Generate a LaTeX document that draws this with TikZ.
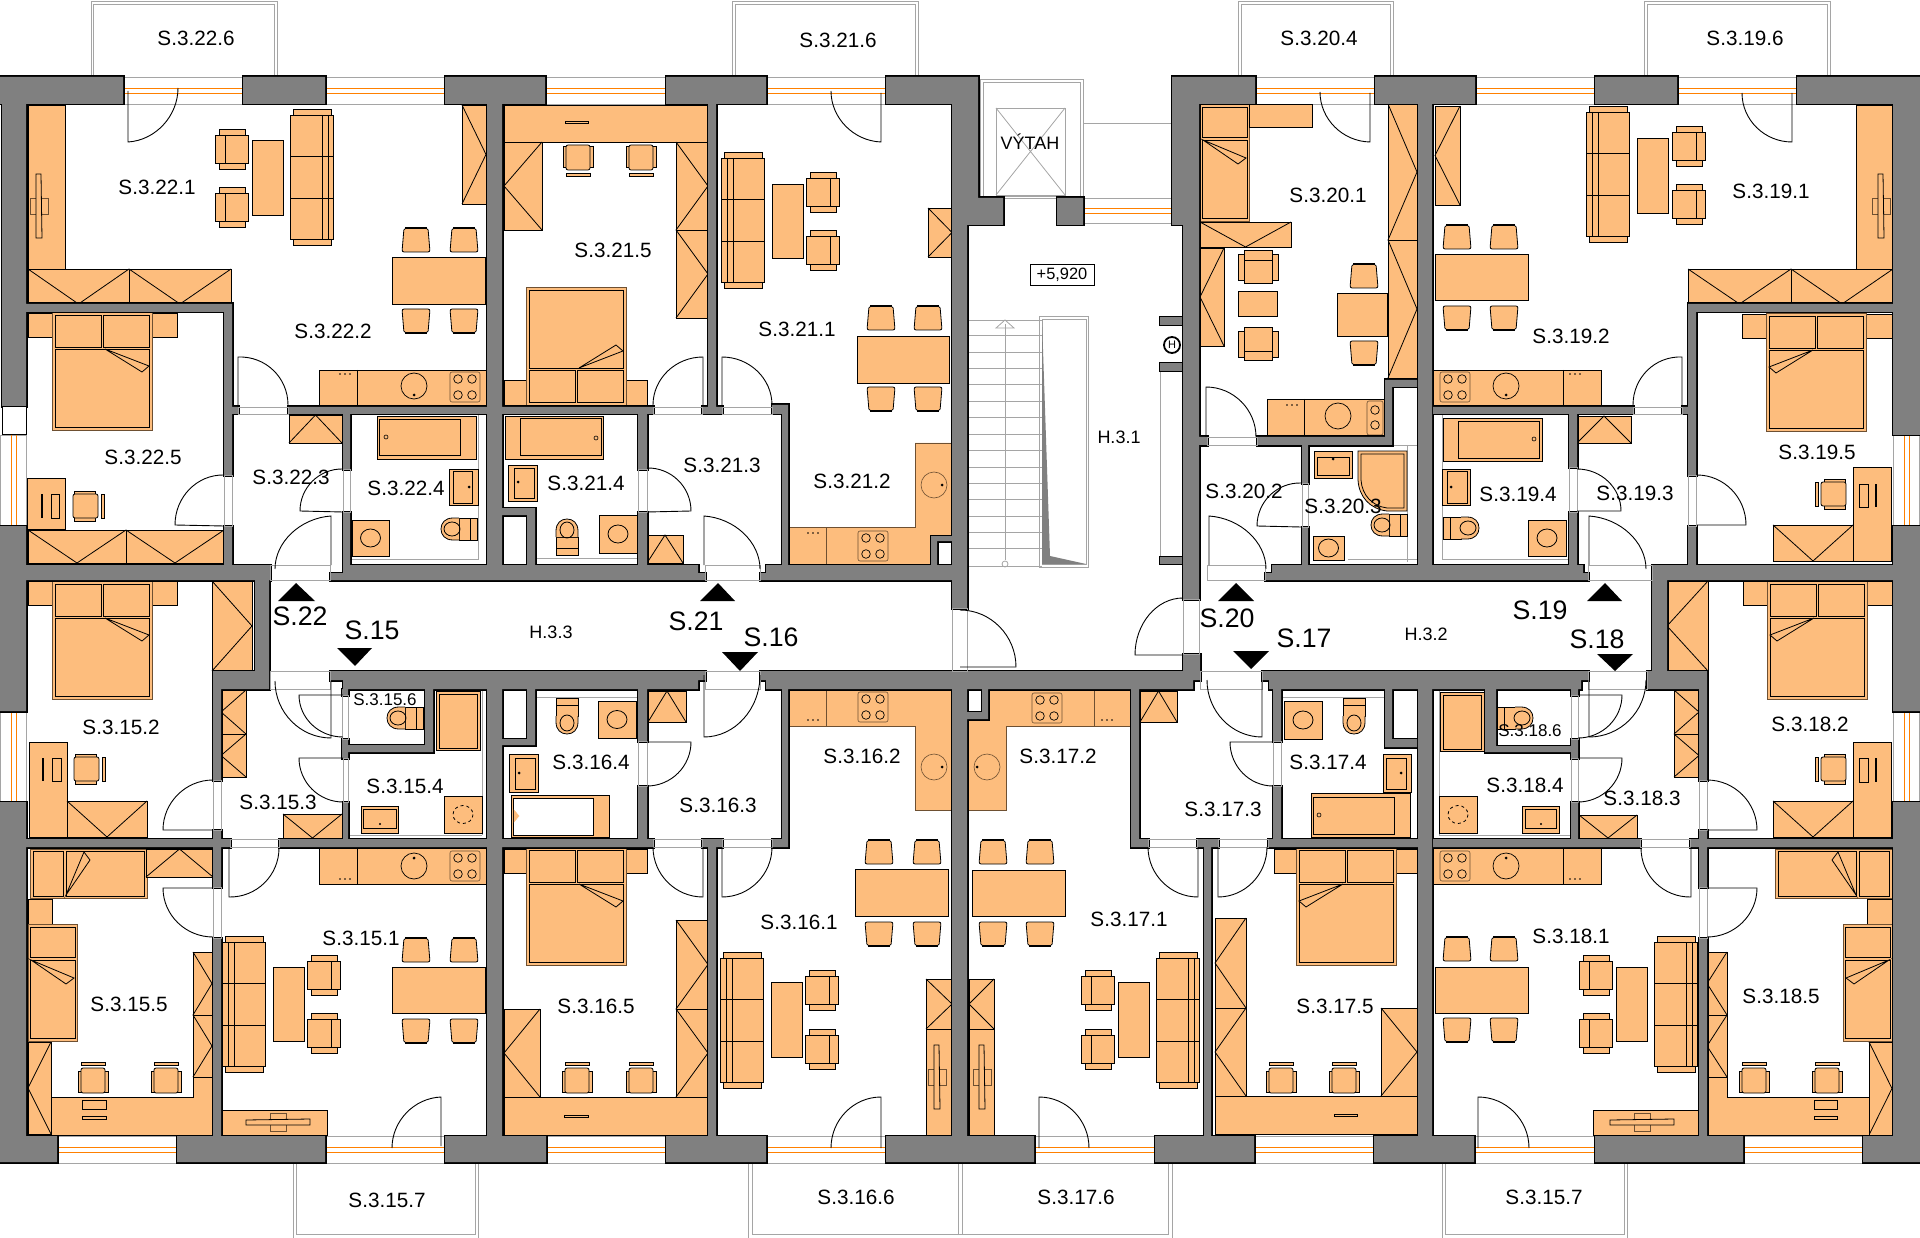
\documentclass[tikz,border=0pt]{standalone}
\usepackage{fontspec}
\setmainfont{Liberation Sans}
\definecolor{wallgrey}{RGB}{128,128,128}
\definecolor{unitfill}{RGB}{253,189,125}
\definecolor{glassorange}{RGB}{255,128,0}
\definecolor{framegrey}{RGB}{165,165,165}
\definecolor{unitedge}{RGB}{110,80,50}
\tikzset{
  unit/.style={draw=black,fill=unitfill,line width=.8pt},
  softunit/.style={draw=unitedge,fill=unitfill,line width=.6pt},
  foldline/.style={draw=black,line width=.8pt},
  frameline/.style={draw=framegrey,line width=.8pt},
  doorline/.style={draw=black,line width=.9pt},
  room/.style={font=\fontsize{20.7}{24}\selectfont,inner sep=0pt},
  roomsmall/.style={font=\fontsize{17}{20}\selectfont,inner sep=0pt},
  hall/.style={font=\fontsize{18}{20}\selectfont,inner sep=0pt},
  entry/.style={font=\fontsize{26.7}{30}\selectfont,inner sep=0pt},
  level/.style={draw=black,line width=.8pt,font=\fontsize{16.4}{18}\selectfont,minimum width=64,minimum height=21,inner sep=0pt}
}
\newcommand{\wardS}[4]{\draw[unit] (#1,#2) rectangle (#3,#4); \pgfmathsetmacro\midw{(#1+#3)/2} \draw[foldline] (#1,#2) -- (\midw,#4) -- (#3,#2);}
\newcommand{\wardN}[4]{\draw[unit] (#1,#2) rectangle (#3,#4); \pgfmathsetmacro\midw{(#1+#3)/2} \draw[foldline] (#1,#4) -- (\midw,#2) -- (#3,#4);}
\newcommand{\wardE}[4]{\draw[unit] (#1,#2) rectangle (#3,#4); \pgfmathsetmacro\midw{(#2+#4)/2} \draw[foldline] (#1,#2) -- (#3,\midw) -- (#1,#4);}
\newcommand{\wardW}[4]{\draw[unit] (#1,#2) rectangle (#3,#4); \pgfmathsetmacro\midw{(#2+#4)/2} \draw[foldline] (#3,#2) -- (#1,\midw) -- (#3,#4);}
\newcommand{\swing}[6]{\pgfmathsetmacro\cax{#3+.55*(#5-#1)} \pgfmathsetmacro\cay{#4+.55*(#6-#2)} \pgfmathsetmacro\cbx{#5+.55*(#3-#1)} \pgfmathsetmacro\cby{#6+.55*(#4-#2)} \draw[doorline] (#1,#2) -- (#3,#4) .. controls (\cax,\cay) and (\cbx,\cby) .. (#5,#6);}
\newcommand{\winH}[3]{\pgfmathsetmacro\wta{#3-11} \pgfmathsetmacro\wtb{#3+16} \pgfmathsetmacro\wtc{#3+5} \draw[frameline] (#1,\wta) rectangle (#2,\wtb); \draw[glassorange,line width=.9pt] (#1,#3) -- (#2,#3) (#1,\wtc) -- (#2,\wtc);}
\newcommand{\winV}[3]{\pgfmathsetmacro\wta{#1+26} \pgfmathsetmacro\wtb{#1+11} \pgfmathsetmacro\wtc{#1+16} \draw[frameline] (#1,#2) rectangle (\wta,#3); \draw[glassorange,line width=.9pt] (\wtb,#2) -- (\wtb,#3) (\wtc,#2) -- (\wtc,#3);}
\newcommand{\balcony}[4]{\draw[frameline] (#1,77) -- (#1,1) -- (#4,1) -- (#4,77); \draw[frameline] (#2,77) -- (#2,4) -- (#3,4) -- (#3,77);}
\newcommand{\opening}[4]{\draw[frameline] (#1,#2) rectangle (#3,#4);}
\newcommand{\dinchair}[3]{\begin{scope}[shift={(#1,#2)},yscale=#3] \draw[unit,rounded corners=2pt] (-12,-12) -- (12,-12) -- (14,12) -- (-14,12) -- cycle; \draw[line width=1.2pt] (-11,-12) -- (11,-12); \end{scope}}
\newcommand{\sofa}[3][]{\begin{scope}[shift={(#2,#3)},#1] \draw[unit] (-19,-68) rectangle (19,68); \draw[unit] (-21.5,-62) rectangle (21.5,62); \draw[foldline] (-21.5,-21) -- (21.5,-21) (-21.5,21) -- (21.5,21) (10,-62) -- (10,62) (16,-62) -- (16,62); \end{scope}}
\newcommand{\armchair}[3][]{\begin{scope}[shift={(#2,#3)},#1] \draw[unit] (-13,-20) rectangle (13,20); \draw[unit] (-16.5,-14) rectangle (16.5,14); \draw[foldline] (-7,-14) -- (-7,14); \end{scope}}
\newcommand{\ochair}[3][]{\begin{scope}[shift={(#2,#3)},#1] \draw[unit] (-15,-9) rectangle (15,12); \draw[unit,rounded corners=2pt] (-12,-12) rectangle (12,13); \draw[unit] (-12,-18) rectangle (12,-15); \end{scope}}
\newcommand{\dbed}[3][]{\begin{scope}[shift={(#2,#3)},#1] \draw[softunit] (-50,0) rectangle (50,118); \draw[unit] (-47,3) rectangle (-1,35); \draw[unit] (1,3) rectangle (47,35); \draw[unit] (-47,37) rectangle (47,115); \draw[unit] (3,37) -- (47,54) -- (40,60) -- cycle; \end{scope}}
\newcommand{\sbed}[3][]{\begin{scope}[shift={(#2,#3)},#1] \draw[softunit] (0,0) rectangle (49,117); \draw[unit] (2,3) rectangle (47,33); \draw[unit] (2,36) rectangle (47,114); \draw[unit] (3,36) -- (46,54) -- (38,60) -- cycle; \end{scope}}
\newcommand{\tvset}[3][]{\begin{scope}[shift={(#2,#3)},#1] \draw[softunit] (-9,-8) rectangle (9,8); \draw[unit] (-3,-32) -- (2,-32) -- (3,32) -- (-3,32) -- cycle; \end{scope}}
\newcommand{\hob}[2]{\begin{scope}[shift={(#1,#2)}] \draw[softunit,rounded corners=2pt] (-15,-15) rectangle (15,15); \foreach \hx in {-7,7} \foreach \hy in {-8,8} \draw[line width=.7pt] (\hx,\hy) circle (4.3); \end{scope}}
\newcommand{\bowl}[4]{\draw[line width=.7pt] (#1,#2) circle (13); \fill (#3,#4) circle (1.5);}
\newcommand{\threedots}[2]{\begin{scope}[shift={(#1,#2)}] \foreach \dx in {-5,0,5} \fill[black] (\dx,0) circle (.9); \end{scope}}
\newcommand{\tub}[8]{\draw[unit] (#1,#2) rectangle (#3,#4); \draw[unit] (#5,#6) rectangle (#7,#8);}
\newcommand{\basin}[8]{\draw[unit] (#1,#2) rectangle (#3,#4); \draw[unit] (#5,#6) rectangle (#7,#8);}
\newcommand{\washer}[4]{\draw[unit] (#1,#2) rectangle (#3,#4); \pgfmathsetmacro\wmx{(#1+#3)/2} \pgfmathsetmacro\wmy{(#2+#4)/2} \draw[line width=.8pt] (\wmx,\wmy) ellipse (10 and 9);}
\newcommand{\washerd}[4]{\draw[unit] (#1,#2) rectangle (#3,#4); \pgfmathsetmacro\wmx{(#1+#3)/2} \pgfmathsetmacro\wmy{(#2+#4)/2} \draw[line width=.8pt,dashed] (\wmx,\wmy) ellipse (10 and 9);}
\newcommand{\wcpan}[3][]{\begin{scope}[shift={(#2,#3)},#1] \draw[unit] (0,-11) rectangle (18,11); \draw[unit] (0,-11) -- (-6,-11) .. controls (-14,-11) and (-18,-6) .. (-18,0) .. controls (-18,6) and (-14,11) .. (-6,11) -- (0,11); \draw[foldline] (11,-11) -- (11,11); \draw[line width=.8pt] (-7,0) ellipse (8 and 7); \end{scope}}
\newcommand{\wallrects}{
  (2,77) rectangle (26,407) (0,77) rectangle (123,104) (243,77) rectangle (325,104) (445,77) rectangle (545,104) (666,77) rectangle (766,104) (886,77) rectangle (978,104)
  (0,526) rectangle (26,711) (0,802) rectangle (26,1162) (0,1136) rectangle (57,1162) (177,1136) rectangle (325,1162) (445,1136) rectangle (546,1162) (666,1136) rectangle (766,1162) (886,1136) rectangle (1034,1162) (1155,1136) rectangle (1254,1162) (1374,1136) rectangle (1474,1162) (1595,1136) rectangle (1743,1162) (1863,1136) rectangle (1920,1162)
  (1172,77) rectangle (1255,104) (1375,77) rectangle (1475,104) (1595,77) rectangle (1677,104) (1797,77) rectangle (1920,104) (1893,77) rectangle (1920,435) (1893,526) rectangle (1920,711) (1893,802) rectangle (1920,1162)
  (487,104) rectangle (502,565) (708,104) rectangle (716,407) (702,407) rectangle (722,414) (502,407) rectangle (653,414) (638,414) rectangle (647,469) (638,512) rectangle (647,565) (772,405) rectangle (788,414) (782,405) rectangle (788,565)
  (527,508) rectangle (535,565) (502,508) rectangle (535,515) (931,536) rectangle (937,565) (931,536) rectangle (952,541)
  (26,565) rectangle (270,580) (343,565) rectangle (698,573) (330,573) rectangle (705,580) (766,565) rectangle (952,573) (760,573) rectangle (952,580)
  (952,104) rectangle (978,225) (952,225) rectangle (967,608) (960,198) rectangle (1003,225) (1057,198) rectangle (1083,225) (1172,104) rectangle (1199,225) (1183,225) rectangle (1199,599)
  (26,304) rectangle (232,312) (224,312) rectangle (232,475) (224,526) rectangle (232,565) (232,407) rectangle (238,414) (288,407) rectangle (487,414) (343,414) rectangle (350,469) (343,512) rectangle (350,565) (255,565) rectangle (269,689)
  (1199,437) rectangle (1207,445) (1257,437) rectangle (1385,445) (1302,445) rectangle (1308,483) (1302,527) rectangle (1308,565) (1385,380) rectangle (1392,445) (1385,380) rectangle (1417,387) (1418,104) rectangle (1432,565)
  (1272,565) rectangle (1583,573) (1265,573) rectangle (1588,580) (1433,407) rectangle (1633,414) (1682,407) rectangle (1692,414) (1688,304) rectangle (1696,475) (1688,526) rectangle (1696,565) (1688,304) rectangle (1893,312) (1569,414) rectangle (1577,467) (1569,512) rectangle (1577,565) (1652,565) rectangle (1920,580) (1652,565) rectangle (1667,689)
  (213,671) rectangle (269,689) (213,689) rectangle (221,780) (213,830) rectangle (221,887) (213,938) rectangle (221,1136) (26,839) rectangle (230,847) (279,839) rectangle (487,847) (342,689) rectangle (348,695) (342,739) rectangle (348,758) (343,802) rectangle (348,839) (348,745) rectangle (433,752) (425,689) rectangle (433,752)
  (330,671) rectangle (705,680) (343,680) rectangle (698,689) (487,689) rectangle (502,1136) (527,689) rectangle (535,745) (502,739) rectangle (535,745) (638,689) rectangle (647,741) (638,786) rectangle (647,839) (502,839) rectangle (653,847) (702,839) rectangle (722,847) (708,847) rectangle (716,1136) (782,689) rectangle (788,847) (772,839) rectangle (788,847)
  (760,671) rectangle (1200,680) (766,680) rectangle (1193,689) (952,689) rectangle (967,1136) (982,689) rectangle (988,719) (967,712) rectangle (988,719) (1183,654) rectangle (1200,680)
  (1131,689) rectangle (1139,847) (1131,839) rectangle (1148,847) (1197,839) rectangle (1218,847) (1204,847) rectangle (1211,1136) (1268,839) rectangle (1418,847) (1273,689) rectangle (1281,741) (1273,786) rectangle (1281,839)
  (1262,671) rectangle (1588,680) (1269,680) rectangle (1581,689) (1385,689) rectangle (1392,747) (1385,739) rectangle (1417,747) (1418,689) rectangle (1432,1136)
  (1433,839) rectangle (1640,847) (1690,839) rectangle (1893,847) (1699,689) rectangle (1707,780) (1699,830) rectangle (1707,887) (1699,938) rectangle (1707,1136) (1647,671) rectangle (1707,689) (1571,689) rectangle (1578,695) (1571,739) rectangle (1578,758) (1571,802) rectangle (1578,839) (1485,746) rectangle (1578,752) (1485,689) rectangle (1496,752)
}
\begin{document}
\begin{tikzpicture}[x=1pt,y=-1pt]
\useasboundingbox (0,0) rectangle (1920,1238);
\balcony{91}{93}{274}{277}
\balcony{732}{735}{915}{918}
\balcony{1238}{1241}{1390}{1393}
\balcony{1644}{1647}{1827}{1830}
\draw[frameline] (293,1162) -- (293,1238) -- (478,1238) -- (478,1162) (296,1162) -- (296,1234) -- (475,1234) -- (475,1162);
\draw[frameline] (748,1162) -- (748,1238) -- (1172,1238) -- (1172,1162) (752,1162) -- (752,1234) -- (1168,1234) -- (1168,1162) (958,1162) -- (958,1234) (962,1162) -- (962,1234);
\draw[frameline] (1442,1162) -- (1442,1238) -- (1627,1238) -- (1627,1162) (1445,1162) -- (1445,1234) -- (1624,1234) -- (1624,1162);
\winH{123}{243}{88}
\winH{325}{445}{88}
\winH{545}{666}{88}
\winH{766}{886}{88}
\winH{1255}{1375}{88}
\winH{1475}{1595}{88}
\winH{1677}{1797}{88}
\winH{57}{177}{1147}
\winH{325}{445}{1147}
\winH{546}{666}{1147}
\winH{766}{886}{1147}
\winH{1034}{1155}{1147}
\winH{1254}{1374}{1147}
\winH{1474}{1595}{1147}
\winH{1743}{1863}{1147}
\winV{0}{435}{526}
\winV{0}{711}{802}
\winV{1893}{435}{526}
\winV{1893}{711}{802}
\draw[frameline] (980,79) rectangle (1083,198);
\draw[frameline] (983,82) rectangle (1080,196);
\draw[frameline] (996,108) rectangle (1065,195);
\draw[frameline] (996,108) -- (1065,195) (1065,108) -- (996,195);
\draw[frameline] (1083,123) -- (1172,123) (1083,198) -- (1172,198) (1083,223) -- (1172,223);
\draw[glassorange,line width=.9pt] (1083,208) -- (1172,208) (1083,213) -- (1172,213);
\foreach \ty in {320,335,352,368,384,401,417,434,450,467,483,499,516,532,548,566} \draw[frameline] (969,\ty) -- (1042,\ty);
\draw[frameline] (1005,324) -- (1005,560);
\draw[frameline] (996,328) -- (1005,320) -- (1014,328) -- cycle;
\draw[frameline] (1005,564) circle (3);
\draw[frameline] (1039,316) rectangle (1088,567);
\draw[frameline] (1042,319) rectangle (1086,564);
\fill[wallgrey] (1042,320) -- (1050,556) -- (1086,564) -- (1042,564) -- cycle;
\draw[frameline] (1160,372) -- (1160,556);
\draw[unit] (28,105) rectangle (65,269);
\tvset{39}{206}
\wardS{28}{269}{129}{304}
\wardS{129}{269}{231}{304}
\wardE{462}{105}{486}{204}
\armchair{232}{149}
\armchair{232}{207}
\draw[unit] (252,140) rectangle (283,215);
\sofa{312}{177}
\draw[unit] (392,257) rectangle (485,304);
\dinchair{416}{240}{1}
\dinchair{464}{240}{1}
\dinchair{416}{321}{-1}
\dinchair{464}{321}{-1}
\draw[unit] (319,370) rectangle (487,406);
\draw[foldline] (357,370) -- (357,406);
\bowl{414}{386}{414}{395}
\hob{465}{387}
\threedots{345}{374}
\draw[unit] (28,313) rectangle (52,337);
\draw[unit] (152,313) rectangle (177,337);
\dbed{102}{312}
\draw[unit] (27,478) rectangle (65,529);
\draw[unit] (51,494) rectangle (59,518);
\fill (41,494) rectangle (43,518);
\ochair[rotate=-90]{86}{506}
\wardS{28}{530}{126}{563}
\wardS{126}{530}{224}{563}
\wardN{289}{415}{342}{443}
\draw[frameline] (478,414) -- (478,560) (352,559) -- (478,559);
\tub{377}{416}{476}{459}{379}{419}{460}{455}
\draw[line width=.6pt] (386,437) circle (2);
\basin{449}{469}{478}{505}{453}{471}{472}{503}
\fill (469,487) circle (1.5);
\wcpan{459}{529}
\washer{352}{520}{389}{556}
\draw[unit] (504,105) rectangle (708,142);
\draw[unit] (565,121) rectangle (588,123);
\wardW{504}{142}{542}{230}
\wardE{676}{142}{708}{230}
\wardE{676}{230}{708}{318}
\ochair[rotate=180]{578}{158}
\ochair[rotate=180]{641}{158}
\draw[unit] (504,380) rectangle (526,405);
\draw[unit] (625,380) rectangle (647,405);
\dbed[yscale=-1]{576}{405}
\draw[frameline] (535,558) -- (638,558);
\tub{505}{416}{603}{459}{520}{418}{601}{455}
\draw[line width=.6pt] (596,438) circle (2);
\basin{508}{465}{537}{501}{514}{468}{534}{498}
\fill (518,482) circle (1.5);
\wcpan[rotate=-90]{567}{537}
\washer{599}{515}{637}{553}
\wardN{647}{535}{683}{563}
\sofa[xscale=-1]{743}{220}
\draw[unit] (772,184) rectangle (803,258);
\armchair[xscale=-1]{823}{192}
\armchair[xscale=-1]{823}{250}
\wardE{928}{208}{952}{257}
\draw[unit] (857,336) rectangle (949,383);
\dinchair{881}{318}{1}
\dinchair{928}{318}{1}
\dinchair{881}{399}{-1}
\dinchair{928}{399}{-1}
\draw[softunit] (789,527) -- (915,527) -- (915,443) -- (952,443) -- (952,536) -- (931,536) -- (931,565) -- (789,565) -- cycle;
\draw[unitedge,line width=.6pt] (826,527) -- (826,565);
\draw[unitedge,line width=.6pt] (934,485) ellipse (13 and 13);
\fill (942,485) circle (1.5);
\hob{873}{546}
\threedots{813}{533}
\sbed{1200}{104}
\draw[unit] (1249,104) rectangle (1312,127);
\wardS{1200}{222}{1291}{247}
\wardW{1200}{248}{1224}{346}
\armchair[rotate=-90]{1258}{267}
\draw[unit] (1238,291) rectangle (1277,316);
\armchair[rotate=90]{1258}{344}
\draw[unit] (1337,293) rectangle (1387,336);
\dinchair{1364}{276}{1}
\dinchair{1364}{353}{-1}
\wardE{1388}{104}{1417}{240}
\wardE{1388}{240}{1417}{378}
\draw[unit] (1267,399) rectangle (1384,437);
\draw[foldline] (1304,399) -- (1304,437);
\draw[line width=.7pt] (1338,416) circle (13);
\draw[softunit,rounded corners=2pt] (1367,401) rectangle (1383,435);
\draw[line width=.7pt] (1375,410) circle (4.3) (1375,425) circle (4.3);
\threedots{1292}{405}
\draw[frameline] (1407,445) -- (1407,562) (1348,559) -- (1417,559) (1308,445) -- (1417,445);
\basin{1314}{451}{1352}{478}{1317}{457}{1349}{475}
\fill (1333,459) circle (1.5);
\draw[unit] (1358,451) -- (1407,451) -- (1407,511) -- (1387,511) .. controls (1370,509) and (1359,497) .. (1358,480) -- cycle;
\draw[foldline] (1361,454) -- (1404,454) -- (1404,508) -- (1387,508) .. controls (1372,506) and (1362,495) .. (1361,480) -- cycle;
\wcpan{1389}{525}
\washer{1313}{536}{1344}{560}
\draw[unit] (1856,105) rectangle (1893,269);
\tvset{1881}{206}
\wardS{1688}{269}{1791}{304}
\wardS{1791}{269}{1893}{304}
\wardW{1435}{106}{1460}{205}
\sofa[xscale=-1]{1608}{174}
\draw[unit] (1637,138) rectangle (1668,213);
\armchair[xscale=-1]{1689}{146}
\armchair[xscale=-1]{1689}{204}
\draw[unit] (1435,254) rectangle (1528,300);
\dinchair{1457}{237}{1}
\dinchair{1504}{237}{1}
\dinchair{1457}{318}{-1}
\dinchair{1504}{318}{-1}
\draw[unit] (1433,370) rectangle (1601,406);
\draw[foldline] (1563,370) -- (1563,406);
\bowl{1506}{386}{1506}{395}
\hob{1455}{387}
\threedots{1575}{374}
\draw[frameline] (1442,414) -- (1442,560) (1442,559) -- (1569,559);
\tub{1443}{418}{1542}{461}{1458}{421}{1539}{458}
\draw[line width=.6pt] (1534,439) circle (2);
\basin{1442}{469}{1470}{505}{1447}{471}{1467}{503}
\fill (1451,487) circle (1.5);
\wcpan[rotate=180]{1461}{528}
\washer{1528}{520}{1566}{556}
\wardN{1577}{416}{1631}{443}
\draw[unit] (1742,314) rectangle (1767,338);
\draw[unit] (1866,314) rectangle (1892,338);
\dbed[xscale=-1]{1816}{313}
\wardS{1773}{525}{1853}{561}
\draw[unit] (1853,467) rectangle (1891,561);
\draw[unit] (1859,484) rectangle (1868,507);
\fill (1875,484) rectangle (1877,507);
\ochair[rotate=90]{1833}{494}
\draw[unit] (28,581) rectangle (52,605);
\draw[unit] (152,581) rectangle (177,605);
\dbed{102}{581}
\wardE{212}{581}{252}{671}
\draw[unit] (29,742) rectangle (67,837);
\draw[unit] (52,758) rectangle (61,781);
\fill (42,758) rectangle (44,781);
\ochair[rotate=-90]{87}{769}
\wardS{67}{801}{147}{837}
\wardW{221}{690}{246}{734}
\wardW{221}{734}{246}{777}
\wardS{283}{814}{342}{838}
\draw[unit] (436,691) rectangle (480,750);
\draw[unit] (439,694) rectangle (477,748);
\wcpan{405}{718}
\draw[frameline] (348,835) -- (482,835) (482,689) -- (482,835);
\basin{361}{806}{398}{833}{363}{809}{396}{828}
\fill (380,824) circle (1.2);
\washerd{444}{796}{482}{833}
\sbed[rotate=90]{30}{898}
\wardN{146}{849}{213}{877}
\draw[unit] (28,899) rectangle (52,924);
\sbed{28}{924}
\wardW{28}{1042}{51}{1134}
\draw[unit] (51,1097) -- (193,1097) -- (193,1077) -- (212,1077) -- (212,1135) -- (51,1135) -- cycle;
\wardE{193}{952}{212}{1015}
\wardE{193}{1015}{212}{1077}
\ochair{93}{1080}
\ochair{166}{1080}
\draw[unit] (82,1100) rectangle (106,1109);
\draw[unit] (82,1116) rectangle (106,1119);
\draw[unit] (319,847) rectangle (487,884);
\draw[foldline] (357,847) -- (357,884);
\bowl{414}{866}{414}{858}
\hob{465}{866}
\threedots{345}{879}
\sofa[xscale=-1]{244}{1004}
\draw[unit] (273,967) rectangle (304,1041);
\armchair[xscale=-1]{324}{975}
\armchair[xscale=-1]{324}{1033}
\draw[unit] (392,967) rectangle (485,1013);
\dinchair{416}{950}{1}
\dinchair{464}{950}{1}
\dinchair{416}{1031}{-1}
\dinchair{464}{1031}{-1}
\draw[unit] (222,1110) rectangle (327,1135);
\tvset[rotate=90]{278}{1122}
\draw[softunit] (789,689) -- (952,689) -- (952,810) -- (915,810) -- (915,726) -- (789,726) -- cycle;
\draw[unitedge,line width=.6pt] (826,689) -- (826,726);
\hob{873}{707}
\draw[unitedge,line width=.6pt] (934,767) circle (13);
\fill (942,767) circle (1.5);
\threedots{813}{720}
\draw[unit] (855,869) rectangle (948,916);
\dinchair{879}{852}{1}
\dinchair{927}{852}{1}
\dinchair{879}{934}{-1}
\dinchair{927}{934}{-1}
\sofa[xscale=-1]{742}{1020}
\draw[unit] (771,982) rectangle (802,1057);
\armchair[xscale=-1]{822}{990}
\armchair[xscale=-1]{822}{1049}
\wardE{926}{979}{952}{1029}
\draw[unit] (926,1029) rectangle (952,1135);
\tvset{937}{1077}
\wardN{648}{691}{686}{722}
\wcpan[rotate=90]{567}{716}
\washer{598}{701}{636}{738}
\basin{509}{754}{538}{792}{515}{758}{535}{789}
\fill (519,773) circle (1.5);
\draw[unit] (511,795) rectangle (609,837);
\draw[unit,fill=white] (513,798) rectangle (593,835);
\draw[unitfill,fill=unitfill] (514,810) -- (519,816) -- (514,822) -- cycle;
\draw[frameline] (535,697) -- (638,697);
\draw[unit] (504,849) rectangle (526,873);
\draw[unit] (625,849) rectangle (647,873);
\dbed{576}{847}
\wardW{504}{1009}{540}{1097}
\wardE{676}{920}{708}{1009}
\wardE{676}{1009}{708}{1097}
\draw[unit] (504,1097) rectangle (708,1135);
\draw[unit] (564,1115) rectangle (588,1117);
\ochair{577}{1080}
\ochair{641}{1080}
\draw[softunit] (988,689) -- (1131,689) -- (1131,726) -- (1006,726) -- (1006,810) -- (967,810) -- (967,719) -- (988,719) -- cycle;
\draw[unitedge,line width=.6pt] (1094,689) -- (1094,726);
\hob{1047}{708}
\draw[unitedge,line width=.6pt] (987,767) circle (13);
\fill (977,767) circle (1.5);
\threedots{1107}{720}
\wardN{1140}{691}{1177}{722}
\draw[unit] (972,870) rectangle (1065,916);
\dinchair{993}{852}{1}
\dinchair{1040}{852}{1}
\dinchair{993}{934}{-1}
\dinchair{1040}{934}{-1}
\sofa{1178}{1020}
\armchair{1098}{990}
\armchair{1098}{1049}
\draw[unit] (1118,982) rectangle (1149,1057);
\wardW{969}{979}{994}{1029}
\draw[unit] (969,1029) rectangle (994,1135);
\tvset{982}{1077}
\washer{1284}{701}{1322}{739}
\wcpan[rotate=90]{1354}{716}
\draw[frameline] (1281,697) -- (1385,697);
\basin{1383}{754}{1411}{792}{1386}{758}{1406}{789}
\fill (1401,773) circle (1.5);
\tub{1311}{793}{1410}{837}{1313}{797}{1394}{834}
\draw[line width=.6pt] (1319,815) circle (2);
\draw[unit] (1274,849) rectangle (1297,873);
\draw[unit] (1396,849) rectangle (1417,873);
\dbed[xscale=-1]{1346}{847}
\wardW{1215}{918}{1246}{1008}
\wardW{1215}{1008}{1246}{1096}
\wardE{1381}{1008}{1417}{1096}
\draw[unit] (1215,1096) rectangle (1417,1134);
\draw[unit] (1334,1114) rectangle (1357,1116);
\ochair{1281}{1080}
\ochair{1344}{1080}
\draw[unit] (1440,692) rectangle (1484,751);
\draw[unit] (1443,695) rectangle (1481,749);
\wcpan[rotate=180]{1515}{718}
\draw[frameline] (1439,689) -- (1439,835) (1439,835) -- (1571,835);
\washerd{1439}{796}{1477}{833}
\basin{1522}{806}{1559}{833}{1525}{809}{1556}{828}
\fill (1541,824) circle (1.2);
\wardS{1579}{815}{1637}{838}
\wardE{1674}{690}{1699}{734}
\wardE{1674}{734}{1699}{777}
\draw[unit] (1433,847) rectangle (1601,884);
\draw[foldline] (1563,847) -- (1563,884);
\bowl{1506}{866}{1506}{858}
\hob{1455}{866}
\threedots{1575}{879}
\draw[unit] (1435,967) rectangle (1528,1013);
\dinchair{1457}{949}{1}
\dinchair{1504}{949}{1}
\dinchair{1457}{1030}{-1}
\dinchair{1504}{1030}{-1}
\armchair{1596}{975}
\armchair{1596}{1033}
\draw[unit] (1616,967) rectangle (1647,1041);
\sofa{1676}{1004}
\draw[unit] (1593,1110) rectangle (1698,1135);
\tvset[rotate=90]{1642}{1122}
\draw[unit] (1743,581) rectangle (1768,605);
\draw[unit] (1867,581) rectangle (1892,605);
\dbed[xscale=-1]{1817}{581}
\wardW{1667}{581}{1708}{671}
\draw[unit] (1853,742) rectangle (1891,837);
\draw[unit] (1859,758) rectangle (1868,782);
\fill (1875,758) rectangle (1877,782);
\ochair[rotate=90]{1833}{769}
\wardS{1773}{801}{1853}{837}
\sbed[xscale=-1,rotate=90]{1892}{898}
\draw[unit] (1867,899) rectangle (1892,924);
\sbed[xscale=-1]{1892}{924}
\wardE{1869}{1042}{1892}{1135}
\draw[unit] (1707,1077) -- (1727,1077) -- (1727,1097) -- (1869,1097) -- (1869,1135) -- (1707,1135) -- cycle;
\wardW{1707}{952}{1727}{1015}
\wardW{1707}{1015}{1727}{1077}
\ochair{1754}{1080}
\ochair{1827}{1080}
\draw[unit] (1814,1100) rectangle (1837,1109);
\draw[unit] (1814,1116) rectangle (1837,1119);
\draw[line width=3pt] \wallrects;
\fill[wallgrey] \wallrects;
\draw[line width=1pt,fill=white] (2,407) rectangle (26,435);
\opening{270}{565}{330}{580}
\opening{705}{565}{760}{580}
\opening{1207}{565}{1265}{580}
\opening{1588}{565}{1652}{580}
\opening{270}{671}{330}{689}
\opening{705}{671}{760}{689}
\opening{1200}{671}{1262}{689}
\opening{1588}{671}{1647}{689}
\opening{238}{407}{288}{414}
\opening{653}{407}{702}{414}
\opening{722}{407}{772}{414}
\opening{1207}{437}{1257}{445}
\opening{1633}{407}{1682}{414}
\opening{230}{839}{279}{847}
\opening{653}{839}{702}{847}
\opening{722}{839}{772}{847}
\opening{1148}{839}{1197}{847}
\opening{1218}{839}{1268}{847}
\opening{1640}{839}{1690}{847}
\opening{224}{475}{232}{526}
\opening{343}{469}{350}{512}
\opening{638}{469}{647}{512}
\opening{1302}{483}{1308}{527}
\opening{1569}{467}{1577}{512}
\opening{1688}{475}{1696}{526}
\opening{213}{780}{221}{830}
\opening{213}{887}{221}{938}
\opening{342}{695}{348}{739}
\opening{343}{758}{348}{802}
\opening{638}{741}{647}{786}
\opening{1273}{741}{1281}{786}
\opening{1571}{695}{1578}{739}
\opening{1571}{758}{1578}{802}
\opening{1699}{780}{1707}{830}
\opening{1699}{887}{1707}{938}
\opening{952}{608}{967}{671}
\opening{1183}{599}{1199}{654}
\swing{128}{91}{128}{142}{178}{88}
\swing{238}{407}{238}{357}{288}{405}
\swing{224}{526}{175}{525}{224}{475}
\swing{343}{512}{300}{511}{343}{469}
\swing{331}{565}{331}{516}{275}{569}
\swing{881}{93}{881}{142}{831}{91}
\swing{703}{405}{703}{357}{653}{405}
\swing{722}{405}{722}{357}{772}{405}
\swing{647}{512}{691}{511}{647}{468}
\swing{704}{565}{704}{516}{760}{569}
\swing{1370}{93}{1370}{142}{1320}{92}
\swing{1206}{437}{1206}{387}{1256}{437}
\swing{1301}{527}{1257}{526}{1301}{483}
\swing{1209}{565}{1209}{516}{1266}{569}
\swing{1792}{93}{1792}{142}{1742}{93}
\swing{1682}{407}{1682}{357}{1633}{405}
\swing{1697}{525}{1746}{525}{1697}{475}
\swing{1577}{511}{1621}{511}{1577}{469}
\swing{1589}{565}{1589}{516}{1646}{569}
\swing{1183}{655}{1135}{655}{1183}{598}
\swing{960}{667}{1016}{667}{960}{610}
\swing{441}{1146}{441}{1097}{392}{1148}
\swing{229}{847}{229}{897}{279}{848}
\swing{213}{888}{163}{888}{213}{937}
\swing{213}{830}{163}{830}{213}{780}
\swing{331}{681}{331}{738}{275}{681}
\swing{343}{695}{299}{695}{343}{737}
\swing{343}{758}{299}{758}{343}{802}
\swing{881}{1148}{881}{1097}{831}{1148}
\swing{722}{847}{722}{897}{772}{847}
\swing{703}{847}{703}{897}{653}{847}
\swing{647}{742}{691}{742}{647}{786}
\swing{704}{675}{704}{737}{760}{675}
\swing{1039}{1148}{1039}{1097}{1089}{1148}
\swing{1198}{847}{1198}{897}{1148}{847}
\swing{1218}{847}{1218}{897}{1267}{847}
\swing{1273}{742}{1230}{742}{1273}{786}
\swing{1262}{680}{1262}{737}{1207}{680}
\swing{1707}{830}{1757}{830}{1707}{780}
\swing{1707}{888}{1757}{888}{1707}{937}
\swing{1691}{847}{1691}{897}{1641}{848}
\swing{1589}{680}{1589}{737}{1646}{680}
\swing{1578}{695}{1622}{695}{1578}{738}
\swing{1578}{758}{1622}{758}{1578}{802}
\swing{1478}{1148}{1478}{1097}{1529}{1148}
\fill (278,601) -- (296,583) -- (315,601) -- cycle;
\fill (700,601) -- (718,583) -- (735,601) -- cycle;
\fill (1218,601) -- (1236,583) -- (1254,601) -- cycle;
\fill (1587,601) -- (1605,583) -- (1622,601) -- cycle;
\fill (337,648) -- (372,648) -- (355,666) -- cycle;
\fill (722,652) -- (758,652) -- (740,671) -- cycle;
\fill (1233,651) -- (1269,651) -- (1251,669) -- cycle;
\fill (1597,654) -- (1633,654) -- (1615,671) -- cycle;
\fill[wallgrey] (1159,317) rectangle (1182,326) (1159,363) rectangle (1182,372) (1159,556) rectangle (1182,564);
\draw[line width=1pt] (1159,317) rectangle (1182,326) (1159,363) rectangle (1182,372) (1159,556) rectangle (1182,564);
\node[draw=black,line width=1.8pt,fill=white,circle,minimum size=16,inner sep=0pt,font=\fontsize{11}{12}\selectfont] (hydrant) at (1172,345) {H};
\node[hall] (vytah) at (1030,142) {VÝTAH};
\node[level] (kota) at (1062,275) {+5,920};
\node[hall] (h31) at (1119,437) {H.3.1};
\node[hall] (h33) at (551,632) {H.3.3};
\node[hall] (h32) at (1426,634) {H.3.2};
\node[entry] (e22) at (300,616) {S.22};
\node[entry] (e15) at (372,630) {S.15};
\node[entry] (e21) at (696,621) {S.21};
\node[entry] (e16) at (771,637) {S.16};
\node[entry] (e20) at (1227,618) {S.20};
\node[entry] (e17) at (1304,638) {S.17};
\node[entry] (e19) at (1540,610) {S.19};
\node[entry] (e18) at (1597,639) {S.18};
\node[room] (s3226) at (196,38) {S.3.22.6};
\node[room] (s3221) at (157,187) {S.3.22.1};
\node[room] (s3222) at (333,331) {S.3.22.2};
\node[room] (s3225) at (143,457) {S.3.22.5};
\node[room] (s3223) at (291,477) {S.3.22.3};
\node[room] (s3224) at (406,488) {S.3.22.4};
\node[room] (s3216) at (838,40) {S.3.21.6};
\node[room] (s3215) at (613,250) {S.3.21.5};
\node[room] (s3211) at (797,329) {S.3.21.1};
\node[room] (s3213) at (722,465) {S.3.21.3};
\node[room] (s3214) at (586,483) {S.3.21.4};
\node[room] (s3212) at (852,481) {S.3.21.2};
\node[room] (s3204) at (1319,38) {S.3.20.4};
\node[room] (s3201) at (1328,195) {S.3.20.1};
\node[room] (s3202) at (1244,491) {S.3.20.2};
\node[room] (s3203) at (1343,506) {S.3.20.3};
\node[room] (s3196) at (1745,38) {S.3.19.6};
\node[room] (s3191) at (1771,191) {S.3.19.1};
\node[room] (s3192) at (1571,336) {S.3.19.2};
\node[room] (s3195) at (1817,452) {S.3.19.5};
\node[room] (s3194) at (1518,494) {S.3.19.4};
\node[room] (s3193) at (1635,493) {S.3.19.3};
\node[room] (s3152) at (121,727) {S.3.15.2};
\node[roomsmall] (s3156) at (385,700) {S.3.15.6};
\node[room] (s3154) at (405,786) {S.3.15.4};
\node[room] (s3153) at (278,802) {S.3.15.3};
\node[room] (s3155) at (129,1004) {S.3.15.5};
\node[room] (s3151) at (361,938) {S.3.15.1};
\node[room] (s3157) at (387,1200) {S.3.15.7};
\node[room] (s3164) at (591,762) {S.3.16.4};
\node[room] (s3162) at (862,756) {S.3.16.2};
\node[room] (s3163) at (718,805) {S.3.16.3};
\node[room] (s3161) at (799,922) {S.3.16.1};
\node[room] (s3165) at (596,1006) {S.3.16.5};
\node[room] (s3166) at (856,1197) {S.3.16.6};
\node[room] (s3172) at (1058,756) {S.3.17.2};
\node[room] (s3173) at (1223,809) {S.3.17.3};
\node[room] (s3174) at (1328,762) {S.3.17.4};
\node[room] (s3171) at (1129,919) {S.3.17.1};
\node[room] (s3175) at (1335,1006) {S.3.17.5};
\node[room] (s3176) at (1076,1197) {S.3.17.6};
\node[room] (s3182) at (1810,724) {S.3.18.2};
\node[room] (s3184) at (1525,785) {S.3.18.4};
\node[room] (s3183) at (1642,798) {S.3.18.3};
\node[roomsmall] (s3186) at (1530,731) {S.3.18.6};
\node[room] (s3181) at (1571,936) {S.3.18.1};
\node[room] (s3185) at (1781,996) {S.3.18.5};
\node[room] (s3157b) at (1544,1197) {S.3.15.7};
\end{tikzpicture}
\end{document}
